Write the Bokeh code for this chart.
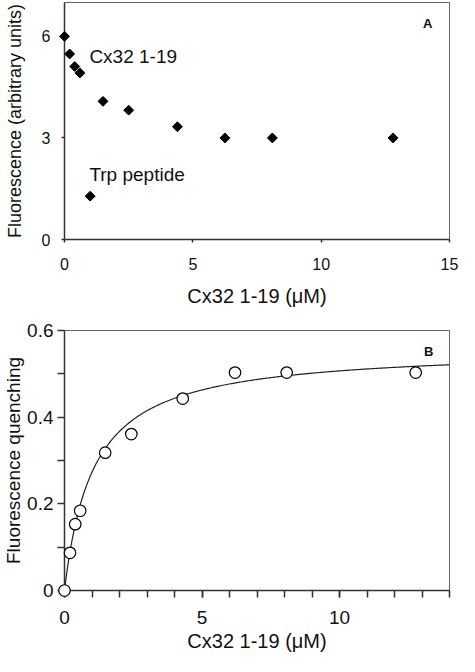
import numpy as np
from bokeh.plotting import figure
from bokeh.layouts import column
from bokeh.models import FixedTicker, Label, Range1d
from bokeh.embed import file_html
from bokeh.resources import INLINE

# ---------------- Panel A data ----------------
conc_a = [0.0, 0.2, 0.4, 0.6, 1.5, 2.5, 4.4, 6.25, 8.1, 12.8]
fluor_cx32 = [6.0, 5.48, 5.11, 4.92, 4.08, 3.82, 3.33, 3.0, 3.0, 3.0]
conc_trp = [1.0]
fluor_trp = [1.28]
xticks_a = [0, 5, 10, 15]
yticks_a = [0, 3, 6]

# ---------------- Panel B data ----------------
conc_b = [0.0, 0.2, 0.39, 0.57, 1.48, 2.43, 4.3, 6.2, 8.08, 12.77]
quench = [0.0, 0.087, 0.153, 0.184, 0.318, 0.361, 0.443, 0.503, 0.503, 0.503]
fit_bmax = 0.56   # fitted hyperbola parameters
fit_kd = 1.05
xticks_b = [0, 5, 10]
xminor_b = list(range(0, 15))
yticks_b = [0, 0.2, 0.4, 0.6]
yminor_b = [0.1, 0.3, 0.5]

FONT = "Liberation Sans"
TXT = "#111111"
AX = "#333333"
FRAME = "#666666"


def style(p, tick_size, label_size_x, label_size_y):
    p.xgrid.visible = False
    p.ygrid.visible = False
    p.outline_line_color = FRAME
    p.outline_line_width = 1
    for ax in (p.xaxis[0], p.yaxis[0]):
        ax.axis_line_color = AX
        ax.axis_line_width = 1.5
        ax.major_tick_line_color = AX
        ax.minor_tick_line_color = AX
        ax.major_tick_line_width = 1.5
        ax.minor_tick_line_width = 1.5
        ax.major_tick_in = 0
        ax.minor_tick_in = 0
        ax.major_label_text_font = FONT
        ax.major_label_text_font_size = tick_size
        ax.major_label_text_color = TXT
        ax.axis_label_text_font = FONT
        ax.axis_label_text_font_style = "normal"
        ax.axis_label_text_color = TXT
    p.xaxis[0].axis_label_text_font_size = label_size_x
    p.yaxis[0].axis_label_text_font_size = label_size_y


# ---------------- Panel A ----------------
pa = figure(width=459, height=318, x_range=Range1d(0, 15), y_range=Range1d(0, 7),
            output_backend="svg", toolbar_location=None,
            min_border_left=64, min_border_right=10, min_border_top=2, min_border_bottom=79)
style(pa, "16px", "20px", "18px")
pa.xaxis.ticker = FixedTicker(ticks=xticks_a)
pa.yaxis.ticker = FixedTicker(ticks=yticks_a)
for ax in (pa.xaxis[0], pa.yaxis[0]):
    ax.major_tick_out = 3
    ax.minor_tick_out = 0
pa.xaxis.major_label_standoff = 15
pa.yaxis.major_label_standoff = 11
pa.xaxis.axis_label = "Cx32 1-19 (\u03bcM)"
pa.yaxis.axis_label = "Fluorescence (arbitrary units)"
pa.xaxis.axis_label_standoff = 12
pa.yaxis.axis_label_standoff = 14

pa.scatter(conc_a, fluor_cx32, marker="square", size=7, angle=np.pi / 4,
           fill_color="black", line_color="black", level="overlay")
pa.scatter(conc_trp, fluor_trp, marker="square", size=7, angle=np.pi / 4,
           fill_color="black", line_color="black", level="overlay")
pa.add_layout(Label(x=0.97, y=5.4, text="Cx32 1-19", text_font=FONT, text_font_size="19px",
                    text_color=TXT, text_baseline="middle", text_align="left"))
pa.add_layout(Label(x=0.97, y=1.92, text="Trp peptide", text_font=FONT, text_font_size="19px",
                    text_color=TXT, text_baseline="middle", text_align="left"))
pa.add_layout(Label(x=14.15, y=6.39, text="A", text_font=FONT, text_font_size="13px",
                    text_font_style="bold", text_color=TXT, text_baseline="middle",
                    text_align="center"))

# ---------------- Panel B ----------------
pb = figure(width=459, height=338, x_range=Range1d(0, 14), y_range=Range1d(0, 0.6),
            output_backend="svg", toolbar_location=None,
            min_border_left=64, min_border_right=10, min_border_top=12, min_border_bottom=66)
style(pb, "19px", "20px", "19px")
pb.xaxis.ticker = FixedTicker(ticks=xticks_b, minor_ticks=xminor_b)
pb.yaxis.ticker = FixedTicker(ticks=yticks_b, minor_ticks=yminor_b)
pb.yaxis.major_label_overrides = {0: "0", 0.2: "0.2", 0.4: "0.4", 0.6: "0.6"}
for ax in (pb.xaxis[0], pb.yaxis[0]):
    ax.major_tick_out = 7
    ax.minor_tick_out = 7
pb.xaxis.major_label_standoff = 13
pb.yaxis.major_label_standoff = 4
pb.xaxis.axis_label = "Cx32 1-19 (\u03bcM)"
pb.yaxis.axis_label = "Fluorescence quenching"
pb.xaxis.axis_label_standoff = 3
pb.yaxis.axis_label_standoff = 0

xfit = np.linspace(0, 14, 300)
yfit = fit_bmax * xfit / (fit_kd + xfit)
pb.line(xfit, yfit, line_color="#222222", line_width=1.2)
pb.scatter(conc_b, quench, marker="circle", size=11.5, fill_color="white",
           line_color="black", line_width=1.2, level="overlay")
pb.add_layout(Label(x=13.24, y=0.551, text="B", text_font=FONT, text_font_size="13px",
                    text_font_style="bold", text_color=TXT, text_baseline="middle",
                    text_align="center"))

layout = column(pa, pb, spacing=0)
open("out.html", "w").write(file_html(layout, INLINE))
